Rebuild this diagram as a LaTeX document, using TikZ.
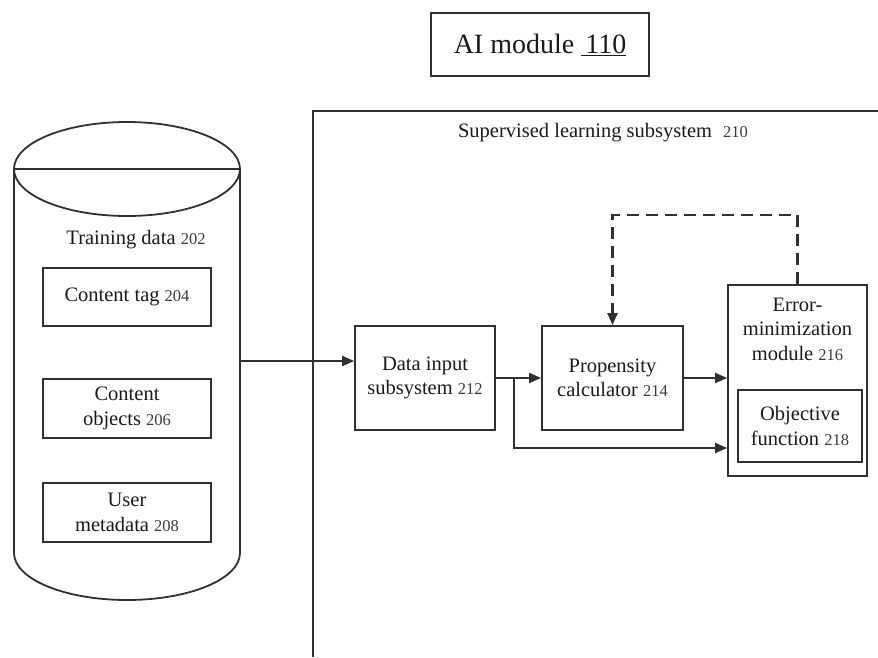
\documentclass[tikz,border=0pt]{standalone}
\usepackage{fontspec}
\setmainfont{Liberation Serif}
\usetikzlibrary{arrows.meta}
\definecolor{linec}{HTML}{303030}
\definecolor{txtc}{HTML}{1A1A1A}
\definecolor{numc}{HTML}{3A3A3A}
\newcommand{\refnum}[1]{{\fontsize{16.5}{16.5}\selectfont\color{numc}#1}}
\begin{document}
\begin{tikzpicture}[x=1pt,y=-1pt,
  box/.style={draw=linec, line width=1.8pt, align=center, inner sep=0pt, text=txtc,
    font=\fontsize{20.5}{24.5}\selectfont},
  lbl/.style={align=center, inner sep=0pt, text=txtc, font=\fontsize{20.5}{24.5}\selectfont},
  arr/.style={draw=linec, line width=2pt, -{Triangle[length=12pt,width=10pt]}},
  dasharr/.style={draw=linec, line width=2.2pt, dash pattern=on 12pt off 7pt,
    -{Triangle[length=12pt,width=10pt]}},
]
\useasboundingbox (0,0) rectangle (878,657);

% AI module
\node[box, minimum width=218pt, minimum height=63pt, font=\fontsize{28}{30}\selectfont]
  (ai) at (540,44.5) {AI module \underline{\hspace{4pt}110}};

% Cylinder (training data store)
\node[inner sep=0pt, minimum width=226pt, minimum height=478pt] (cyl) at (127,361) {};
\draw[linec, line width=1.8pt] (127,169) ellipse [x radius=113, y radius=47];
\draw[linec, line width=1.8pt] (14,169) -- (240,169);
\draw[linec, line width=1.8pt] (14,169) -- (14,553) arc[start angle=180, end angle=360, x radius=113, y radius=-47] -- (240,169);
\node[lbl] (td) at (136,240) {Training data \refnum{202}};
\node[box, minimum width=168pt, minimum height=58pt] (ct) at (127,297) {Content tag \refnum{204}};
\node[box, minimum width=168pt, minimum height=59pt] (co) at (127,408.5) {Content\\objects \refnum{206}};
\node[box, minimum width=168pt, minimum height=59pt] (um) at (127,512.5) {User\\metadata \refnum{208}};

% Supervised learning subsystem frame (cropped at right and bottom)
\draw[linec, line width=1.8pt] (313,657) -- (313,111) -- (878,111);
\node[lbl] (sls) at (603,133) {Supervised learning subsystem \hspace{6pt}\refnum{210}};

\node[box, minimum width=140pt, minimum height=104pt] (din) at (425,378) {Data input\\subsystem \refnum{212}};
\node[box, minimum width=141pt, minimum height=104pt] (prop) at (612.5,378) {Propensity\\calculator \refnum{214}};
\node[box, minimum width=139pt, minimum height=191pt] (err) at (797.5,380.5) {};
\node[lbl] (errl) at (797.5,329) {Error-\\minimization\\module \refnum{216}};
\node[box, minimum width=124pt, minimum height=72pt] (obj) at (800,426) {Objective\\function \refnum{218}};

% connectors
\draw[arr] (cyl.east) -- (cyl.east -| din.west);
\draw[arr] (din.east) -- (prop.west);
\draw[arr] (prop.east) -- (prop.east -| err.west);
\coordinate (br) at (514,378);
\coordinate (brend) at (514,448);
\draw[arr] (br) -- (brend) -- (brend -| err.west);
\draw[dasharr] (err.north) -- ++(0,-69) -| (prop.north);
\end{tikzpicture}
\end{document}
